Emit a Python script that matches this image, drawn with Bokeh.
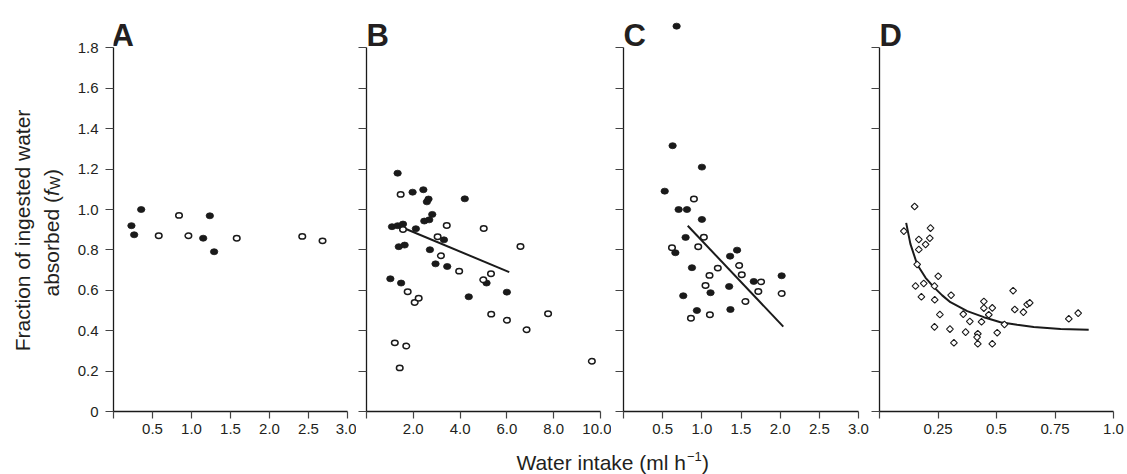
import math
from bokeh.plotting import figure
from bokeh.models import Range1d, FixedTicker, Label
from bokeh.layouts import row, column
from bokeh.embed import file_html
from bokeh.resources import INLINE

# ---------------- data ----------------
y_ticks = [0, 0.2, 0.4, 0.6, 0.8, 1.0, 1.2, 1.4, 1.6, 1.8]
y_tick_labels = ["0", "0.2", "0.4", "0.6", "0.8", "1.0", "1.2", "1.4", "1.6", "1.8"]

a_ticks = [0, 0.5, 1.0, 1.5, 2.0, 2.5, 3.0]
a_tick_labels = ["", "0.5", "1.0", "1.5", "2.0", "2.5", "3.0"]
b_ticks = [0, 2, 4, 6, 8, 10]
b_tick_labels = ["", "2.0", "4.0", "6.0", "8.0", "10.0"]
c_ticks = [0, 0.5, 1.0, 1.5, 2.0, 2.5, 3.0]
c_tick_labels = ["", "0.5", "1.0", "1.5", "2.0", "2.5", "3.0"]
d_ticks = [0, 0.25, 0.5, 0.75, 1.0]
d_tick_labels = ["", "0.25", "0.5", "0.75", "1.0"]

a_filled_x = [0.23, 0.265, 0.355, 1.15, 1.235, 1.29]
a_filled_y = [0.920, 0.875, 1.000, 0.858, 0.969, 0.791]
a_open_x = [0.58, 0.84, 0.96, 1.58, 2.42, 2.68]
a_open_y = [0.870, 0.971, 0.870, 0.858, 0.867, 0.845]

b_filled_x = [1.33, 1.97, 2.43, 2.65, 2.58, 4.20, 2.81, 2.68, 2.47, 1.09, 1.33, 1.56,
              2.11, 3.31, 1.38, 1.63, 2.71, 2.95, 3.45, 1.02, 1.48, 5.13, 4.37, 6.00]
b_filled_y = [1.180, 1.086, 1.098, 1.052, 1.038, 1.053, 0.976, 0.949, 0.943, 0.915, 0.920, 0.928,
              0.905, 0.850, 0.816, 0.824, 0.801, 0.731, 0.718, 0.657, 0.636, 0.636, 0.568, 0.591]
b_open_x = [1.46, 3.43, 5.01, 1.56, 3.04, 3.18, 6.58, 3.96, 4.99, 5.32, 1.76, 2.06, 2.23,
            5.33, 6.00, 6.84, 7.76, 1.21, 1.70, 1.42, 9.63]
b_open_y = [1.075, 0.921, 0.906, 0.901, 0.865, 0.771, 0.817, 0.695, 0.652, 0.682, 0.593, 0.540, 0.561,
            0.482, 0.452, 0.405, 0.484, 0.340, 0.324, 0.216, 0.249]
b_fit_x = [1.56, 6.10]
b_fit_y = [0.910, 0.690]

c_filled_x = [0.678, 0.627, 1.001, 0.526, 0.704, 0.810, 1.001, 0.793, 0.662, 1.450, 1.361, 0.874,
              1.663, 2.019, 1.349, 1.111, 0.763, 0.937, 1.365]
c_filled_y = [1.908, 1.316, 1.210, 1.091, 1.000, 1.000, 0.951, 0.862, 0.786, 0.799, 0.769, 0.712,
              0.644, 0.672, 0.619, 0.588, 0.573, 0.500, 0.505]
c_open_x = [0.899, 1.026, 0.954, 0.619, 1.204, 1.476, 1.510, 1.098, 1.756, 1.047, 1.721, 2.019,
            1.556, 0.861, 1.103]
c_open_y = [1.052, 0.863, 0.816, 0.811, 0.710, 0.723, 0.677, 0.674, 0.642, 0.624, 0.594, 0.584,
            0.545, 0.462, 0.479]
c_fit_x = [0.82, 2.04]
c_fit_y = [0.920, 0.420]

d_x = [0.150, 0.104, 0.218, 0.168, 0.215, 0.197, 0.168, 0.161, 0.251, 0.154, 0.189, 0.235,
       0.179, 0.236, 0.306, 0.258, 0.235, 0.301, 0.318, 0.358, 0.386, 0.368, 0.446, 0.446,
       0.482, 0.436, 0.467, 0.420, 0.417, 0.420, 0.482, 0.503, 0.534, 0.571, 0.578, 0.615,
       0.631, 0.642, 0.809, 0.849]
d_y = [1.015, 0.893, 0.908, 0.852, 0.858, 0.827, 0.802, 0.728, 0.670, 0.621, 0.634, 0.621,
       0.568, 0.553, 0.576, 0.480, 0.419, 0.408, 0.340, 0.482, 0.446, 0.393, 0.545, 0.512,
       0.513, 0.444, 0.479, 0.385, 0.368, 0.335, 0.335, 0.390, 0.431, 0.598, 0.505, 0.492,
       0.530, 0.538, 0.459, 0.487]
d_fit_x = [0.114, 0.132, 0.161, 0.197, 0.232, 0.268, 0.303, 0.375, 0.446, 0.517, 0.588,
           0.659, 0.774, 0.894]
d_fit_y = [0.934, 0.830, 0.728, 0.662, 0.616, 0.575, 0.541, 0.497, 0.467, 0.442, 0.429,
           0.418, 0.409, 0.405]

# ---------------- styling / layout ----------------
FONT = "Liberation Sans"
TXT = "#231f20"
INK = "#1a1a1a"
FRAME_H = 411        # frame height of each panel (px)
BOTTOM = 32          # space under the frame for x ticks
ROW_H = FRAME_H + BOTTOM
Y_TOP = 2.035        # frame extends above 1.8 (panel C has a point at ~1.9)
LETTER_Y = 1.862
YL_W = 66


def overrides(ticks, labels):
    out = {}
    for t, l in zip(ticks, labels):
        k = int(t) if float(t).is_integer() else t
        out[k] = l
    return out


def panel(width, left, right, x_end, xticks, xlabels, letter, show_y):
    p = figure(width=width, height=ROW_H, x_range=Range1d(0, x_end), y_range=Range1d(0, Y_TOP),
               output_backend="svg", toolbar_location=None, title=None,
               min_border_left=left, min_border_right=right, min_border_top=0,
               min_border_bottom=BOTTOM)
    p.grid.visible = False
    p.outline_line_color = None
    for ax in (p.xaxis, p.yaxis):
        ax.axis_line_color = INK
        ax.axis_line_width = 1.3
        ax.major_tick_line_color = "#444444"
        ax.major_tick_line_width = 1.2
        ax.minor_tick_line_color = None
        ax.major_tick_in = 0
        ax.major_label_text_font = FONT
        ax.major_label_text_font_size = "15px"
        ax.major_label_text_color = TXT
    p.xaxis.major_tick_out = 7
    p.xaxis.major_label_standoff = 5
    p.xaxis.ticker = FixedTicker(ticks=xticks)
    p.xaxis.major_label_overrides = overrides(xticks, xlabels)
    p.yaxis.major_tick_out = 8
    p.yaxis.bounds = (0, 1.8)
    p.yaxis.ticker = FixedTicker(ticks=y_ticks)
    if show_y:
        p.yaxis.major_label_standoff = 7
        p.yaxis.major_label_overrides = overrides(y_ticks, y_tick_labels)
    else:
        p.yaxis.major_label_standoff = 0
        p.yaxis.major_label_overrides = overrides(y_ticks, [""] * len(y_ticks))
    p.add_layout(Label(x=0, y=LETTER_Y, text=letter, text_font=FONT, text_font_style="bold",
                       text_font_size="31px", text_color=TXT, text_align="left",
                       text_baseline="alphabetic", x_offset=-2 if letter == "A" else 0))
    return p


def filled(p, xs, ys):
    p.ellipse(x=xs, y=ys, width=7.4, height=6.0, width_units="screen", height_units="screen",
              fill_color=INK, line_color=INK, line_width=0.8)


def hollow(p, xs, ys):
    p.ellipse(x=xs, y=ys, width=6.6, height=5.4, width_units="screen", height_units="screen",
              fill_color="white", line_color=INK, line_width=1.5)


pa = panel(296 - (YL_W - 60), 53 - (YL_W - 60), 9, 3.0, a_ticks, a_tick_labels, "A", True)
filled(pa, a_filled_x, a_filled_y)
hollow(pa, a_open_x, a_open_y)

pb = panel(255, 10, 11, 10.0, b_ticks, b_tick_labels, "B", False)
pb.line(b_fit_x, b_fit_y, line_color=INK, line_width=2)
filled(pb, b_filled_x, b_filled_y)
hollow(pb, b_open_x, b_open_y)

pc = panel(258, 12, 11, 3.0, c_ticks, c_tick_labels, "C", False)
pc.line(c_fit_x, c_fit_y, line_color=INK, line_width=2)
filled(pc, c_filled_x, c_filled_y)
hollow(pc, c_open_x, c_open_y)

pd = panel(258, 10, 14, 1.0, d_ticks, d_tick_labels, "D", False)
pd.line(d_fit_x, d_fit_y, line_color=INK, line_width=2)
pd.scatter(d_x, d_y, marker="square", angle=math.pi / 4, size=4.8, fill_color="white",
           line_color=INK, line_width=1.1)

# y-axis title, in its own narrow figure (pixel coordinates: y = ROW_H - page y)
yl = figure(width=YL_W, height=ROW_H, x_range=Range1d(0, YL_W), y_range=Range1d(BOTTOM, ROW_H),
            output_backend="svg", toolbar_location=None, title=None,
            x_axis_location=None, y_axis_location=None, min_border=0,
            min_border_bottom=BOTTOM)
yl.outline_line_color = None
yl.grid.visible = False
common = dict(text_font=FONT, text_color=TXT, angle=math.pi / 2, text_baseline="middle")
yl.add_layout(Label(x=22, y=ROW_H - 230, text="Fraction of ingested water",
                    text_font_size="21px", text_align="center", **common))
J = ROW_H - 195.6   # junction between "absorbed (" and the italic f
yl.add_layout(Label(x=50.5, y=J, text="absorbed (", text_font_size="21px",
                    text_align="right", **common))
yl.add_layout(Label(x=50.5, y=J, text="f", text_font_size="21px", text_font_style="italic",
                    text_align="left", **common))
yl.add_layout(Label(x=54.5, y=J + 6.5, text="W", text_font_size="14px",
                    text_align="left", **common))
yl.add_layout(Label(x=50.5, y=J + 20.0, text=")", text_font_size="21px",
                    text_align="left", **common))

# x-axis title, in its own strip under the panels (pixel coordinates)
XL_H = 31
xl = figure(width=1127, height=XL_H, x_range=Range1d(0, 1127), y_range=Range1d(0, XL_H),
            output_backend="svg", toolbar_location=None, title=None,
            x_axis_location=None, y_axis_location=None, min_border=0)
xl.outline_line_color = None
xl.grid.visible = False
xcommon = dict(text_font=FONT, text_color=TXT, text_baseline="middle")
XJ = 685.5   # junction between "h" and the superscript
xl.add_layout(Label(x=XJ, y=12, text="Water intake (ml h", text_font_size="21px",
                    text_align="right", **xcommon))
xl.add_layout(Label(x=XJ + 1, y=18, text="\u22121", text_font_size="13px",
                    text_align="left", **xcommon))
xl.add_layout(Label(x=XJ + 16, y=12, text=")", text_font_size="21px",
                    text_align="left", **xcommon))

layout = column(row(yl, pa, pb, pc, pd), xl)

open("out.html", "w").write(file_html(layout, INLINE))
